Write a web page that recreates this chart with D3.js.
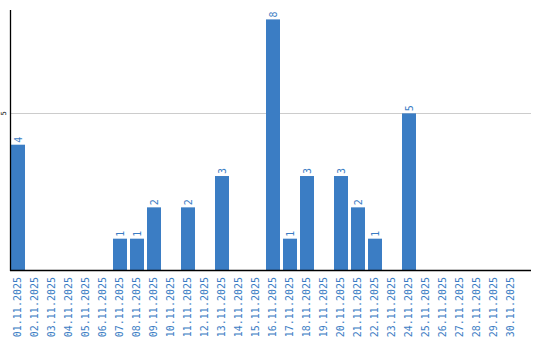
<!DOCTYPE html>
<html><head><meta charset="utf-8">
<script src="https://cdn.jsdelivr.net/npm/d3@7"></script>
<style>body{margin:0;background:#fff}svg{display:block}</style>
</head><body>
<svg id="c" width="540" height="340"></svg>
<script>
const categories = ["01.11.2025","02.11.2025","03.11.2025","04.11.2025","05.11.2025","06.11.2025","07.11.2025","08.11.2025","09.11.2025","10.11.2025","11.11.2025","12.11.2025","13.11.2025","14.11.2025","15.11.2025","16.11.2025","17.11.2025","18.11.2025","19.11.2025","20.11.2025","21.11.2025","22.11.2025","23.11.2025","24.11.2025","25.11.2025","26.11.2025","27.11.2025","28.11.2025","29.11.2025","30.11.2025"];
const values = [4,0,0,0,0,0,1,1,2,0,2,0,3,0,0,8,1,3,0,3,2,1,0,5,0,0,0,0,0,0];
const yTicks = [5];

const blue = "#3b7dc4";
const font = "'DejaVu Sans Mono', monospace";
const svg = d3.select("#c");
const x = d3.scaleBand().domain(categories).range([11, 518]).paddingInner(3/17).paddingOuter(0);
const y = d3.scaleLinear().domain([0, 8.3]).range([270, 10]);

// gridlines
svg.append("g").selectAll("line").data(yTicks).join("line")
  .attr("x1", 11).attr("x2", 531)
  .attr("y1", d => Math.round(y(d)) + 0.5).attr("y2", d => Math.round(y(d)) + 0.5)
  .attr("stroke", "#cccccc").attr("stroke-width", 1);

const rows = values.map((v,i)=>({c:categories[i], v}));

// bars
svg.append("g").selectAll("rect").data(rows.filter(d => d.v > 0)).join("rect")
  .attr("x", d => x(d.c)).attr("width", x.bandwidth())
  .attr("y", d => y(d.v)).attr("height", d => y(0) - y(d.v))
  .attr("fill", blue);

// value labels
svg.append("g").selectAll("text").data(rows.filter(d => d.v > 0)).join("text")
  .attr("transform", d => `translate(${x(d.c) + x.bandwidth()/2 + 3.5},${y(d.v) - 2}) rotate(-90)`)
  .attr("font-family", font).attr("font-size", 10)
  .attr("fill", blue).text(d => d.v);

// x axis labels
svg.append("g").selectAll("text").data(categories).join("text")
  .attr("transform", d => `translate(${x(d) + x.bandwidth()/2 + 2.5},277) rotate(-90)`)
  .attr("text-anchor", "end")
  .attr("font-family", font).attr("font-size", 10)
  .attr("fill", blue).text(d => d);

// y tick labels
svg.append("g").selectAll("text").data(yTicks).join("text")
  .attr("transform", d => `translate(6,${y(d)}) rotate(-90)`)
  .attr("text-anchor", "middle")
  .attr("font-family", font).attr("font-size", 7)
  .attr("fill", "#000").text(d => d);

// axes lines
svg.append("line").attr("x1", 10.5).attr("x2", 10.5).attr("y1", 10).attr("y2", 271)
  .attr("stroke", "#000").attr("stroke-width", 1.3);
svg.append("line").attr("x1", 10).attr("x2", 531).attr("y1", 270.5).attr("y2", 270.5)
  .attr("stroke", "#000").attr("stroke-width", 1.3);
</script>
</body></html>
